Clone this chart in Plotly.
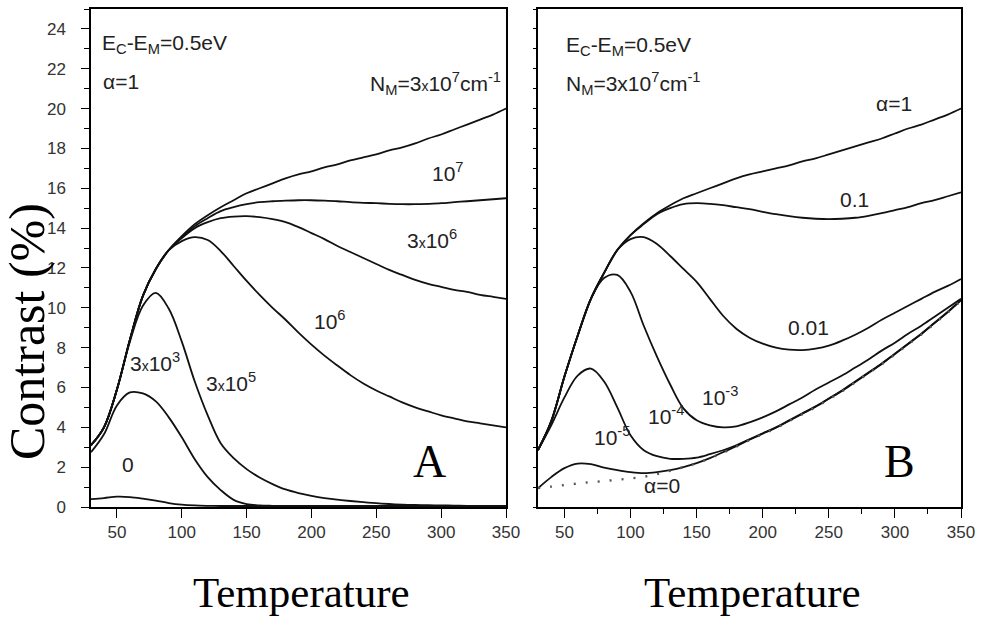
import plotly.graph_objects as go

# ---------------- data ----------------
temperature = list(range(30, 351, 10))

# Panel A : alpha = 1, various N_M
nm_3e7 = [3.1, 4.0, 5.9, 8.4, 10.6, 11.95, 12.9, 13.6, 14.2, 14.65, 15.05, 15.4, 15.75,
          16.0, 16.25, 16.5, 16.7, 16.85, 17.05, 17.2, 17.4, 17.55, 17.7, 17.9, 18.05,
          18.25, 18.5, 18.7, 18.95, 19.2, 19.45, 19.7, 20.0]
nm_1e7 = [3.1, 4.0, 5.9, 8.4, 10.6, 11.95, 12.9, 13.55, 14.1, 14.5, 14.85, 15.05, 15.2,
          15.3, 15.35, 15.38, 15.4, 15.4, 15.38, 15.35, 15.3, 15.27, 15.25, 15.22, 15.2,
          15.2, 15.22, 15.25, 15.3, 15.35, 15.4, 15.45, 15.5]
nm_3e6 = [3.1, 4.0, 5.9, 8.4, 10.6, 11.95, 12.9, 13.5, 14.0, 14.3, 14.5, 14.58, 14.6,
          14.55, 14.45, 14.3, 14.05, 13.75, 13.45, 13.1, 12.8, 12.5, 12.2, 11.9, 11.65,
          11.4, 11.2, 11.05, 10.9, 10.8, 10.65, 10.55, 10.45]
nm_1e6 = [3.1, 4.0, 5.9, 8.4, 10.6, 11.95, 12.9, 13.35, 13.55, 13.4, 12.85, 12.1, 11.35,
          10.65, 10.0, 9.4, 8.75, 8.15, 7.6, 7.1, 6.62, 6.2, 5.85, 5.55, 5.25,
          5.0, 4.8, 4.6, 4.45, 4.3, 4.2, 4.1, 4.0]
nm_3e5 = [3.1, 4.0, 5.9, 8.3, 10.1, 10.75, 9.95, 8.3, 6.3, 4.6, 3.2, 2.45, 1.9,
          1.48, 1.15, 0.88, 0.7, 0.56, 0.45, 0.37, 0.3, 0.24, 0.19, 0.15, 0.12,
          0.1, 0.09, 0.08, 0.07, 0.06, 0.06, 0.05, 0.05]
nm_3e3 = [2.75, 3.65, 5.1, 5.75, 5.7, 5.3, 4.5, 3.5, 2.4, 1.5, 0.85, 0.36, 0.15,
          0.08, 0.06, 0.05, 0.05, 0.05, 0.05, 0.05, 0.05, 0.05, 0.05, 0.05, 0.05,
          0.05, 0.05, 0.05, 0.05, 0.05, 0.05, 0.05, 0.05]
nm_0 = [0.4, 0.45, 0.52, 0.5, 0.42, 0.32, 0.2, 0.12, 0.08, 0.06, 0.05, 0.05, 0.05,
        0.05, 0.05, 0.05, 0.05, 0.05, 0.05, 0.05, 0.05, 0.05, 0.05, 0.05, 0.05,
        0.05, 0.05, 0.05, 0.05, 0.05, 0.05, 0.05, 0.05]

# Panel B : N_M = 3x10^7, various alpha
a_1 = [2.86, 4.3, 6.55, 8.6, 10.45, 11.75, 12.9, 13.65, 14.25, 14.75, 15.15, 15.5, 15.75,
       16.0, 16.25, 16.5, 16.7, 16.85, 17.0, 17.15, 17.35, 17.5, 17.7, 17.9, 18.1,
       18.3, 18.5, 18.75, 19.0, 19.2, 19.45, 19.7, 20.0]
a_01 = [2.86, 4.3, 6.55, 8.6, 10.45, 11.75, 12.9, 13.65, 14.2, 14.7, 15.0, 15.2, 15.25,
        15.22, 15.15, 15.05, 14.95, 14.82, 14.7, 14.6, 14.52, 14.47, 14.45, 14.47, 14.52,
        14.62, 14.75, 14.9, 15.05, 15.25, 15.4, 15.6, 15.8]
a_001 = [2.86, 4.3, 6.55, 8.6, 10.45, 11.75, 12.9, 13.45, 13.55, 13.2, 12.6, 11.95, 11.3,
         10.45, 9.6, 8.95, 8.5, 8.2, 8.0, 7.9, 7.88, 7.95, 8.1, 8.35, 8.65,
         9.0, 9.4, 9.75, 10.1, 10.45, 10.8, 11.1, 11.45]
a_1e3 = [2.86, 4.3, 6.55, 8.6, 10.45, 11.5, 11.65, 10.8, 9.1, 7.55, 6.15, 4.95, 4.35,
         4.1, 4.0, 4.05, 4.25, 4.5, 4.8, 5.15, 5.5, 5.9, 6.25, 6.6, 7.0,
         7.4, 7.85, 8.25, 8.7, 9.1, 9.55, 10.0, 10.45]
a_1e4 = [2.86, 4.1, 5.5, 6.6, 6.95, 6.3, 5.0, 3.6, 2.85, 2.55, 2.42, 2.42, 2.48,
         2.65, 2.85, 3.1, 3.4, 3.7, 4.0, 4.35, 4.7, 5.05, 5.45, 5.85, 6.3,
         6.75, 7.2, 7.7, 8.2, 8.7, 9.25, 9.8, 10.4]
a_1e5 = [0.94, 1.5, 1.95, 2.18, 2.15, 1.98, 1.85, 1.75, 1.7, 1.75, 1.85, 2.0, 2.2,
         2.45, 2.75, 3.05, 3.38, 3.68, 3.98, 4.33, 4.68, 5.03, 5.43, 5.83, 6.28,
         6.73, 7.18, 7.68, 8.18, 8.68, 9.23, 9.78, 10.38]
a_0 = [0.95, 1.02, 1.1, 1.18, 1.25, 1.3, 1.37, 1.43, 1.52, 1.65, 1.82, 2.0, 2.2,
       2.45, 2.73, 3.03, 3.36, 3.66, 3.96, 4.31, 4.66, 5.01, 5.41, 5.81, 6.26,
       6.71, 7.16, 7.66, 8.16, 8.66, 9.21, 9.76, 10.36]

panel_a = [("3x10^7", nm_3e7), ("10^7", nm_1e7), ("3x10^6", nm_3e6), ("10^6", nm_1e6),
           ("3x10^5", nm_3e5), ("3x10^3", nm_3e3), ("0", nm_0)]
panel_b = [("1", a_1), ("0.1", a_01), ("0.01", a_001), ("1e-3", a_1e3),
           ("1e-4", a_1e4), ("1e-5", a_1e5)]

x_ticks = [50, 100, 150, 200, 250, 300, 350]
y_ticks = list(range(0, 25, 2))

# ---------------- figure ----------------
fig = go.Figure()
LINE = dict(color="#111111", width=1.8)

for name, ys in panel_a:
    fig.add_trace(go.Scatter(x=temperature, y=ys, mode="lines", name=name,
                             line=dict(**LINE, shape="spline", smoothing=1.0),
                             xaxis="x", yaxis="y", showlegend=False))
for name, ys in panel_b:
    fig.add_trace(go.Scatter(x=temperature, y=ys, mode="lines", name=name,
                             line=dict(**LINE, shape="spline", smoothing=1.0),
                             xaxis="x2", yaxis="y2", showlegend=False))
fig.add_trace(go.Scatter(x=temperature, y=a_0, mode="lines", name="alpha=0",
                         line=dict(color="#555555", width=2.4, dash="2px,10px", shape="spline"),
                         xaxis="x2", yaxis="y2", showlegend=False))

W, H = 982, 617
def px(x):
    return x / W
def py(y):
    return 1 - y / H

tickfont = dict(family="Liberation Sans, Arial, sans-serif", size=17, color="#333333")
axis_common = dict(showline=True, linecolor="black", linewidth=1.5, mirror=True,
                   showgrid=False, zeroline=False, ticks="outside", tickcolor="black",
                   tickwidth=1.2, tickfont=tickfont, automargin=False)

fig.update_layout(
    template="none",
    width=W, height=H,
    margin=dict(l=0, r=0, t=0, b=0, pad=0),
    paper_bgcolor="white", plot_bgcolor="white",
    xaxis=dict(domain=[px(91), px(506)], range=[30, 350], tickvals=x_ticks,
               ticklen=9, anchor="y", **axis_common),
    yaxis=dict(domain=[py(507), py(9)], range=[0, 25], tickvals=y_ticks,
               ticklen=8, ticklabelstandoff=12, anchor="x",
               minor=dict(dtick=1, tick0=0, ticklen=5, ticks="outside", tickcolor="black"),
               **axis_common),
    xaxis2=dict(domain=[px(538), px(961)], range=[30, 350], tickvals=x_ticks,
                ticklen=9, anchor="y2",
                minor=dict(dtick=25, tick0=0, ticklen=5, ticks="outside", tickcolor="black"),
                **axis_common),
    yaxis2=dict(domain=[py(507), py(9)], range=[0, 25], dtick=1, tick0=0,
                ticklen=3, showticklabels=False, anchor="x2", **axis_common),
)

ann_font = dict(family="Liberation Sans, Arial, sans-serif", size=21, color="#222222")
lab_font = dict(family="Liberation Sans, Arial, sans-serif", size=21, color="#222222")
serif_big = dict(family="Liberation Serif, Times New Roman, serif", size=43, color="black")
SX = "<span style='font-size:14px'>x</span>"

def ann(text, x, y, font, xanchor="center", textangle=0):
    fig.add_annotation(text=text, x=px(x), y=py(y), xref="paper", yref="paper",
                       showarrow=False, xanchor=xanchor, yanchor="middle",
                       font=font, textangle=textangle)

# Panel A texts
ann("E<sub>C</sub>-E<sub>M</sub>=0.5eV", 100, 44, ann_font, "left")
ann("α=1", 101, 82, ann_font, "left")
ann("N<sub>M</sub>=3" + SX + "10<sup>7</sup>cm<sup>-1</sup>", 503, 84, ann_font, "right")
ann("10<sup>7</sup>", 448, 172, lab_font)
ann("3" + SX + "10<sup>6</sup>", 432, 239, lab_font)
ann("10<sup>6</sup>", 330, 320, lab_font)
ann("3" + SX + "10<sup>3</sup>", 155, 362, lab_font)
ann("3" + SX + "10<sup>5</sup>", 231, 382, lab_font)
ann("0", 128, 464, lab_font)
ann("A", 429, 461, dict(family="Liberation Serif, Times New Roman, serif", size=46, color="black"))

# Panel B texts
ann("E<sub>C</sub>-E<sub>M</sub>=0.5eV", 564, 46, ann_font, "left")
ann("N<sub>M</sub>=3x10<sup>7</sup>cm<sup>-1</sup>", 564, 84, ann_font, "left")
ann("α=1", 894, 103, ann_font)
ann("0.1", 854, 199, lab_font)
ann("0.01", 808, 327, lab_font)
ann("10<sup>-3</sup>", 720, 396, lab_font)
ann("10<sup>-4</sup>", 666, 415, lab_font)
ann("10<sup>-5</sup>", 612, 436, lab_font)
ann("α=0", 662, 485, ann_font)
ann("B", 899, 461, dict(family="Liberation Serif, Times New Roman, serif", size=46, color="black"))

# Axis titles
ann("Temperature", 301, 592, serif_big)
ann("Temperature", 752, 592, serif_big)
ann("Contrast (%)", 27, 332, dict(family="Liberation Serif, Times New Roman, serif", size=50, color="black"),
    textangle=-90)

fig.write_html("out.html")
